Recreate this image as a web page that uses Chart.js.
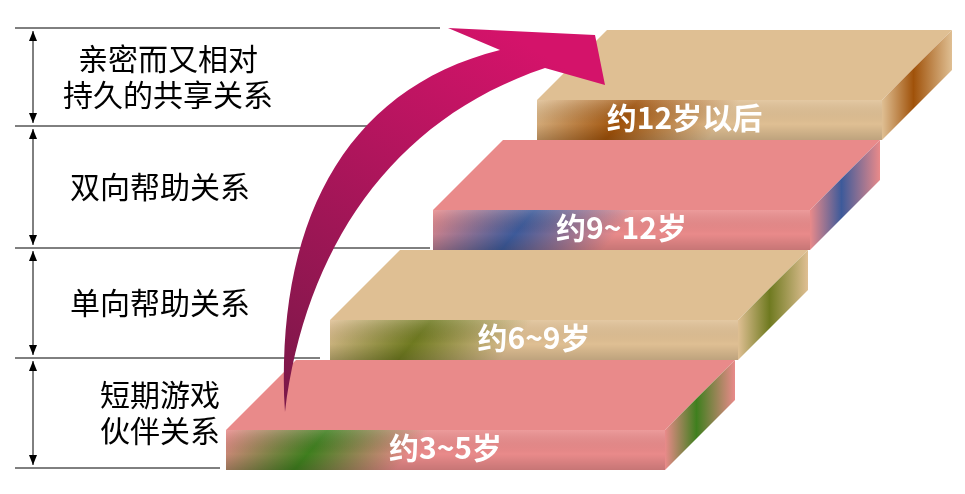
<!DOCTYPE html>
<html><head><meta charset="utf-8">
<script src="https://cdn.jsdelivr.net/npm/chart.js@4/dist/chart.umd.min.js"></script>
<style>html,body{margin:0;background:#fff}#wrap{width:965px;height:494px}</style>
</head><body><div id="wrap"><canvas id="c"></canvas></div>
<script>
// stages, bottom to top
const ageLabels = ['约3~5岁', '约6~9岁', '约9~12岁', '约12岁以后'];
const relationLabels = [['短期游戏', '伙伴关系'], ['单向帮助关系'], ['双向帮助关系'], ['亲密而又相对', '持久的共享关系']];
const stepLeft = [226, 330, 433, 537];
const stepRight = [665, 738, 810, 882];
const stepTop = [430, 320, 210, 100];
const bandLines = [468, 358, 248, 126, 28];
const bandLineEnd = [220, 320, 430, 395, 440];
const topColors = ['#e98a8a', '#dfbf93', '#e98a8a', '#dfbf93'];
const accentColors = ['#3f7f1e', '#6f7a20', '#3d5a9a', '#a0520a'];

const DEPTH_X = 70, DEPTH_Y = 70, FRONT_H = 40;

const stairs = {
  id: 'stairs',
  afterDatasetsDraw(chart) {
    const ctx = chart.ctx, xs = chart.scales.x, ys = chart.scales.y;
    const X = v => xs.getPixelForValue(v), Y = v => ys.getPixelForValue(v);
    ctx.save();
    // left brackets
    ctx.strokeStyle = '#000'; ctx.lineWidth = 1;
    bandLines.forEach((b, i) => {
      ctx.beginPath(); ctx.moveTo(X(15), Y(b)); ctx.lineTo(X(bandLineEnd[i]), Y(b)); ctx.stroke();
    });
    for (let i = 0; i < 4; i++) {
      const a = Y(bandLines[i]) - 3, b = Y(bandLines[i + 1]) + 3, x = X(33);
      ctx.beginPath(); ctx.moveTo(x, a); ctx.lineTo(x, b); ctx.stroke();
      ctx.fillStyle = '#000';
      ctx.beginPath(); ctx.moveTo(x, b); ctx.lineTo(x - 4, b + 10); ctx.lineTo(x + 4, b + 10); ctx.fill();
      ctx.beginPath(); ctx.moveTo(x, a); ctx.lineTo(x - 4, a - 10); ctx.lineTo(x + 4, a - 10); ctx.fill();
      const lines = relationLabels[i];
      const mid = (Y(bandLines[i]) + Y(bandLines[i + 1])) / 2;
      ctx.font = '30px "Noto Sans CJK SC"'; ctx.textAlign = 'center'; ctx.textBaseline = 'middle';
      lines.forEach((t, k) => ctx.fillText(t, X(i === 3 ? 168 : 160), mid + (k - (lines.length - 1) / 2) * 36));
    }
    // steps, bottom to top
    for (let i = 0; i < 4; i++) {
      const l = X(stepLeft[i]), r = X(stepRight[i]), t = Y(stepTop[i]);
      const bt = t + FRONT_H, dx = DEPTH_X, dy = DEPTH_Y;
      ctx.fillStyle = topColors[i];
      ctx.beginPath(); ctx.moveTo(l, t); ctx.lineTo(r, t); ctx.lineTo(r + dx, t - dy); ctx.lineTo(l + dx, t - dy); ctx.fill();
      const sg = ctx.createLinearGradient(r, 0, r + dx, 0);
      sg.addColorStop(0, topColors[i]); sg.addColorStop(0.45, accentColors[i]); sg.addColorStop(1, topColors[i]);
      ctx.fillStyle = sg;
      ctx.beginPath(); ctx.moveTo(r, t); ctx.lineTo(r + dx, t - dy); ctx.lineTo(r + dx, t - dy + FRONT_H); ctx.lineTo(r, bt); ctx.fill();
      const fg = ctx.createLinearGradient(l, t, l + 120, bt + 60);
      fg.addColorStop(0, topColors[i]); fg.addColorStop(0.5, accentColors[i]); fg.addColorStop(1, topColors[i]);
      ctx.fillStyle = fg; ctx.fillRect(l, t, r - l, FRONT_H);
      const fg2 = ctx.createLinearGradient(0, t, 0, bt);
      fg2.addColorStop(0, 'rgba(255,255,255,0.15)'); fg2.addColorStop(0.6, 'rgba(0,0,0,0)'); fg2.addColorStop(1, 'rgba(0,0,0,0.15)');
      ctx.fillStyle = fg2; ctx.fillRect(l, t, r - l, FRONT_H);
      ctx.fillStyle = '#fff'; ctx.font = 'bold 30px "Noto Sans CJK SC"';
      ctx.textAlign = 'center'; ctx.textBaseline = 'middle';
      ctx.fillText(ageLabels[i], (l + r) / 2 + (i === 3 ? -25 : 0), t + 18);
    }
    // big curved arrow
    const ag = ctx.createLinearGradient(X(290), Y(410), X(520), Y(40));
    ag.addColorStop(0, '#7a1848'); ag.addColorStop(1, '#d4136a');
    ctx.fillStyle = ag;
    ctx.beginPath();
    ctx.moveTo(X(285), Y(412));
    ctx.bezierCurveTo(X(275), Y(230), X(340), Y(90), X(500), Y(50));
    ctx.lineTo(X(448), Y(28)); ctx.lineTo(X(595), Y(35)); ctx.lineTo(X(605), Y(85));
    ctx.lineTo(X(545), Y(68));
    ctx.bezierCurveTo(X(390), Y(120), X(305), Y(250), X(285), Y(412));
    ctx.fill();
    ctx.restore();
  }
};

new Chart(document.getElementById('c'), {
  type: 'scatter',
  data: { datasets: [{ data: stepLeft.map((x, i) => ({ x, y: stepTop[i] })), pointRadius: 0 }] },
  options: {
    responsive: true, maintainAspectRatio: false, animation: false,
    layout: { padding: 0 },
    plugins: { legend: { display: false }, tooltip: { enabled: false } },
    scales: {
      x: { type: 'linear', min: 0, max: 965, display: false },
      y: { type: 'linear', min: 0, max: 494, reverse: true, display: false }
    }
  },
  plugins: [stairs]
});
</script></body></html>
